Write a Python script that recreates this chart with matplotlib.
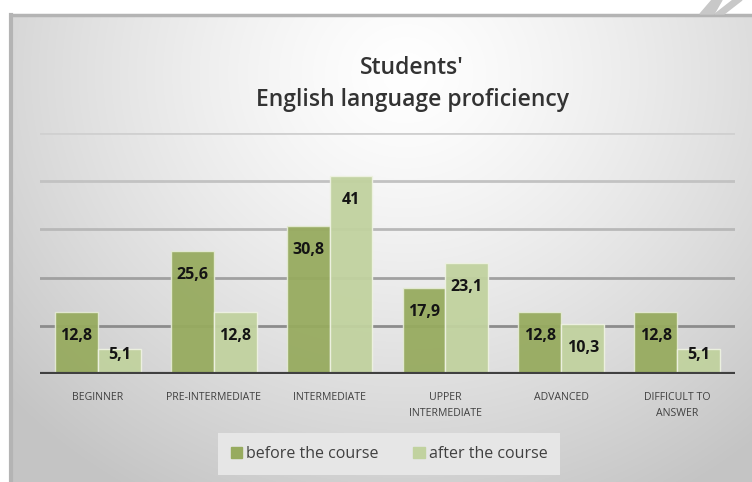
import numpy as np
import matplotlib.pyplot as plt
from matplotlib.patches import Rectangle, Polygon

categories = ["BEGINNER", "PRE-INTERMEDIATE", "INTERMEDIATE",
              "UPPER\nINTERMEDIATE", "ADVANCED", "DIFFICULT TO\nANSWER"]
before = [12.8, 25.6, 30.8, 17.9, 12.8, 12.8]
after = [5.1, 12.8, 41, 23.1, 10.3, 5.1]
series_names = ["before the course", "after the course"]

plt.rcParams['font.family'] = ['Open Sans', 'DejaVu Sans']

W, H = 752, 482
fig = plt.figure(figsize=(W / 100, H / 100), dpi=100)

# background: white page, gray frame with radial gradient
bg = fig.add_axes([0, 0, 1, 1], zorder=-10)
bg.set_xlim(0, W)
bg.set_ylim(H, 0)
bg.axis('off')
yy, xx = np.mgrid[0:H, 0:W]
d = np.sqrt(((xx - 400) / 560.0) ** 2 + ((yy - 60) / 520.0) ** 2)
g = np.clip(1.0 - 0.24 * d ** 1.3, 0.77, 1.0)
img = np.dstack([g, g, g])
bg.imshow(img, extent=[11, W, H, 15], zorder=0, aspect='auto')
bg.add_patch(Rectangle((0, 0), 11, H, color='white', zorder=1))
bg.add_patch(Rectangle((0, 0), W, 14, color='white', zorder=1))
bg.plot([11, 11], [15, H], color='#b4b4b4', lw=3, zorder=2)
bg.plot([11, W], [15, 15], color='#b4b4b4', lw=2.5, zorder=2)
# watermark swoosh in the corner
bg.add_patch(Polygon([[700, 14], [712, 0], [722, 0], [714, 14]], color='#c8c8c8', zorder=2))
bg.add_patch(Polygon([[715, 14], [733, 0], [742, 0], [724, 14]], color='#c8c8c8', zorder=2))

ax = fig.add_axes([40 / W, 1 - 374 / H, 695 / W, 241 / H])
ax.set_facecolor('none')
x = np.arange(len(categories))
w = 0.37
c_before = '#97ab5f'
c_after = '#c1d29f'
ax.bar(x - w / 2, before, w, color=c_before, edgecolor='#e4ead4', linewidth=1, zorder=3, alpha=0.95)
ax.bar(x + w / 2, after, w, color=c_after, edgecolor='#eef2e2', linewidth=1, zorder=3, alpha=0.95)

grid_colors = {10: '#8c8c8c', 20: '#a0a0a0', 30: '#b8b8b8', 40: '#c2c2c2', 50: '#d0d0d0'}
for v, c in grid_colors.items():
    ax.axhline(v, color=c, lw=2, zorder=1)
ax.axhline(0, color='#404040', lw=3, zorder=4)

for xs, vals in [(x - w / 2, before), (x + w / 2, after)]:
    for xi, v in zip(xs, vals):
        ax.text(xi, max(v - 5, 4), f"{v:g}".replace('.', ','), ha='center', va='center',
                fontsize=11.5, fontweight='bold', color='#141414', zorder=5)

ax.set_xlim(-0.5, len(categories) - 0.5)
ax.set_ylim(0, 50)
ax.set_xticks(x)
ax.set_xticklabels(categories, fontsize=7.6, color='#404040', linespacing=1.6)
ax.tick_params(axis='x', length=0, pad=13)
ax.set_yticks([])
for s in ax.spines.values():
    s.set_visible(False)

fig.text(412 / W, 1 - 84 / H, "Students'\nEnglish language proficiency", ha='center', va='center',
         fontsize=16.5, fontweight='semibold', color='#333333', linespacing=1.4)

leg = fig.legend([Rectangle((0, 0), 1, 1, color=c_before), Rectangle((0, 0), 1, 1, color=c_after)],
                 series_names, loc='center', bbox_to_anchor=(389 / W, 1 - 454 / H), ncol=2,
                 frameon=True, fontsize=11.5, handlelength=0.7, handleheight=0.7, handletextpad=0.25,
                 columnspacing=2.2, borderpad=0.8, borderaxespad=0, fancybox=False,
                 labelcolor='#404040')
leg.get_frame().set_facecolor('#e6e6e6')
leg.get_frame().set_edgecolor('none')
leg.get_frame().set_alpha(1)

fig.savefig('out.png', dpi=100)
